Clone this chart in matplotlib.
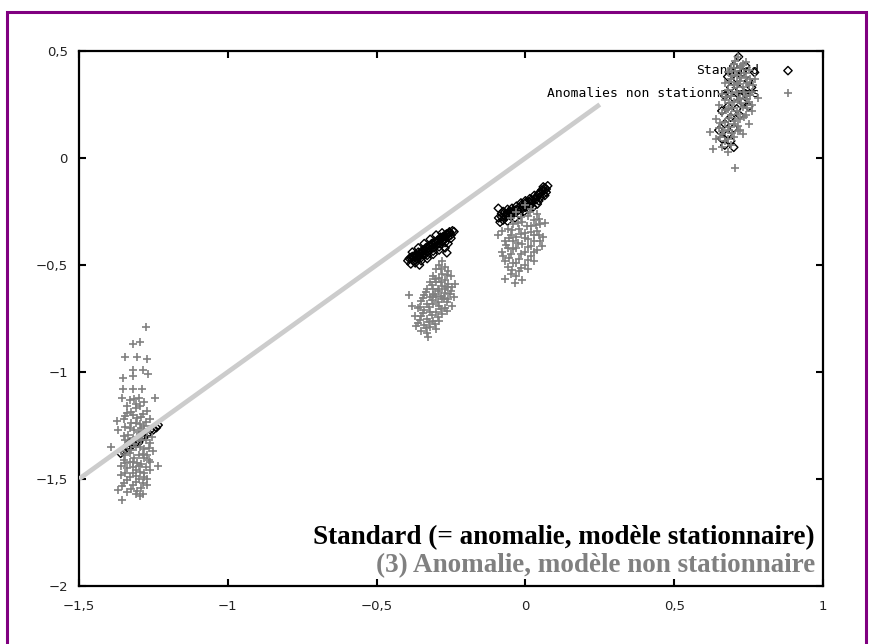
import numpy as np
import matplotlib
matplotlib.use("Agg")
import matplotlib.pyplot as plt
from matplotlib.patches import Rectangle

# --- data (x, y) ---
std_c1 = [(-1.36, -1.38), (-1.35, -1.37), (-1.34, -1.35), (-1.33, -1.35), (-1.32, -1.34),
          (-1.31, -1.33), (-1.30, -1.32), (-1.29, -1.31), (-1.28, -1.30), (-1.27, -1.29),
          (-1.26, -1.27), (-1.25, -1.27), (-1.24, -1.26), (-1.33, -1.33), (-1.30, -1.33),
          (-1.285, -1.30), (-1.234, -1.248)]
std_c2 = [(-0.395, -0.48), (-0.39, -0.47), (-0.385, -0.495), (-0.38, -0.46), (-0.375, -0.48),
          (-0.37, -0.455), (-0.365, -0.47), (-0.36, -0.44), (-0.356, -0.50), (-0.355, -0.46),
          (-0.35, -0.445), (-0.345, -0.43), (-0.34, -0.455), (-0.335, -0.42), (-0.33, -0.44),
          (-0.325, -0.41), (-0.32, -0.43), (-0.315, -0.40), (-0.31, -0.42), (-0.305, -0.39),
          (-0.30, -0.41), (-0.295, -0.385), (-0.29, -0.40), (-0.285, -0.37), (-0.28, -0.39),
          (-0.275, -0.365), (-0.27, -0.38), (-0.265, -0.355), (-0.26, -0.37), (-0.255, -0.345),
          (-0.25, -0.36), (-0.245, -0.34), (-0.24, -0.344), (-0.26, -0.40), (-0.27, -0.42),
          (-0.29, -0.43), (-0.31, -0.45), (-0.33, -0.47), (-0.35, -0.48), (-0.37, -0.49),
          (-0.30, -0.36), (-0.32, -0.38), (-0.34, -0.40), (-0.36, -0.42), (-0.38, -0.44),
          (-0.28, -0.35), (-0.264, -0.443),
          (-0.385, -0.465), (-0.375, -0.46), (-0.365, -0.455), (-0.355, -0.445), (-0.345, -0.44),
          (-0.335, -0.43), (-0.325, -0.42), (-0.315, -0.41), (-0.305, -0.40), (-0.295, -0.39),
          (-0.285, -0.38), (-0.275, -0.37), (-0.265, -0.36), (-0.255, -0.35), (-0.38, -0.475),
          (-0.36, -0.46), (-0.34, -0.445), (-0.32, -0.415), (-0.30, -0.395), (-0.28, -0.375),
          (-0.26, -0.355), (-0.35, -0.465), (-0.33, -0.455), (-0.31, -0.435), (-0.29, -0.415),
          (-0.27, -0.395), (-0.25, -0.375)]
std_c3 = [(-0.09, -0.28), (-0.085, -0.30), (-0.08, -0.26), (-0.075, -0.29), (-0.07, -0.255),
          (-0.065, -0.275), (-0.06, -0.295), (-0.055, -0.25), (-0.05, -0.27), (-0.045, -0.235),
          (-0.04, -0.26), (-0.035, -0.28), (-0.03, -0.225), (-0.025, -0.245), (-0.02, -0.265),
          (-0.015, -0.21), (-0.01, -0.23), (-0.005, -0.25), (0.0, -0.20), (0.005, -0.22),
          (0.01, -0.24), (0.015, -0.19), (0.02, -0.21), (0.025, -0.23), (0.03, -0.175),
          (0.035, -0.195), (0.04, -0.215), (0.045, -0.165), (0.05, -0.185), (0.055, -0.15),
          (0.06, -0.17), (0.065, -0.14), (0.07, -0.16), (0.075, -0.13), (0.06, -0.135),
          (-0.091, -0.235), (-0.06, -0.24), (0.0, -0.23),
          (-0.08, -0.275), (-0.07, -0.27), (-0.06, -0.26), (-0.05, -0.25), (-0.04, -0.245),
          (-0.03, -0.24), (-0.02, -0.23), (-0.01, -0.215), (0.0, -0.21), (0.01, -0.205),
          (0.02, -0.195), (0.03, -0.19), (0.04, -0.18), (0.05, -0.165), (0.06, -0.155),
          (0.07, -0.145), (-0.075, -0.25), (-0.045, -0.255), (-0.015, -0.245), (0.015, -0.225),
          (0.045, -0.2), (0.065, -0.175)]
std_c4 = [(0.716, 0.473), (0.70, 0.43), (0.73, 0.40), (0.68, 0.38), (0.71, 0.37), (0.75, 0.36),
          (0.69, 0.33), (0.72, 0.32), (0.74, 0.30), (0.67, 0.29), (0.70, 0.28), (0.73, 0.26),
          (0.68, 0.24), (0.71, 0.23), (0.75, 0.24), (0.66, 0.22), (0.69, 0.19), (0.72, 0.20),
          (0.67, 0.16), (0.70, 0.14), (0.65, 0.13), (0.68, 0.11), (0.66, 0.09), (0.69, 0.08),
          (0.67, 0.06), (0.70, 0.05), (0.76, 0.33), (0.77, 0.40), (0.74, 0.43)]

anom_c1 = [(-1.275, -0.79), (-1.318, -0.87), (-1.295, -0.86), (-1.345, -0.93), (-1.306, -0.93),
           (-1.270, -0.94), (-1.318, -0.99), (-1.286, -0.99), (-1.267, -1.01), (-1.351, -1.03),
           (-1.318, -1.02), (-1.351, -1.08), (-1.318, -1.08), (-1.289, -1.08), (-1.357, -1.12),
           (-1.245, -1.12), (-1.393, -1.35), (-1.373, -1.23), (-1.368, -1.27), (-1.234, -1.44),
           (-1.357, -1.60), (-1.295, -1.58), (-1.284, -1.57),
           (-1.33, -1.13), (-1.30, -1.12), (-1.28, -1.14), (-1.34, -1.16), (-1.31, -1.17),
           (-1.27, -1.18), (-1.32, -1.20), (-1.29, -1.21), (-1.26, -1.22), (-1.35, -1.22),
           (-1.31, -1.24), (-1.28, -1.25), (-1.33, -1.26), (-1.30, -1.28), (-1.27, -1.28),
           (-1.35, -1.30), (-1.32, -1.31), (-1.29, -1.32), (-1.26, -1.33), (-1.34, -1.34),
           (-1.31, -1.35), (-1.28, -1.36), (-1.36, -1.37), (-1.33, -1.38), (-1.30, -1.39),
           (-1.27, -1.39), (-1.25, -1.37), (-1.35, -1.41), (-1.32, -1.42), (-1.29, -1.43),
           (-1.26, -1.42), (-1.34, -1.45), (-1.31, -1.46), (-1.28, -1.47), (-1.36, -1.48),
           (-1.33, -1.49), (-1.30, -1.50), (-1.27, -1.50), (-1.35, -1.52), (-1.32, -1.53),
           (-1.29, -1.54), (-1.34, -1.56), (-1.31, -1.57), (-1.37, -1.55), (-1.26, -1.46),
           (-1.30, -1.31), (-1.32, -1.47), (-1.29, -1.26), (-1.34, -1.19), (-1.28, -1.40),
           (-1.31, -1.15), (-1.33, -1.42), (-1.27, -1.53), (-1.36, -1.44), (-1.30, -1.44),
           (-1.315, -1.125), (-1.295, -1.16), (-1.325, -1.185), (-1.285, -1.195), (-1.345, -1.205),
           (-1.305, -1.215), (-1.275, -1.235), (-1.325, -1.24), (-1.345, -1.255), (-1.295, -1.245),
           (-1.265, -1.265), (-1.315, -1.27), (-1.285, -1.285), (-1.335, -1.295), (-1.255, -1.305),
           (-1.305, -1.305), (-1.275, -1.32), (-1.345, -1.32), (-1.315, -1.335), (-1.295, -1.35),
           (-1.265, -1.355), (-1.325, -1.365), (-1.345, -1.39), (-1.285, -1.385), (-1.315, -1.40),
           (-1.265, -1.41), (-1.305, -1.425), (-1.345, -1.425), (-1.275, -1.445), (-1.32, -1.445),
           (-1.295, -1.465), (-1.345, -1.47), (-1.31, -1.485), (-1.28, -1.49), (-1.34, -1.505),
           (-1.31, -1.515), (-1.285, -1.52), (-1.325, -1.545), (-1.305, -1.555), (-1.355, -1.535)]
anom_c2 = [(-0.281, -0.48), (-0.29, -0.50), (-0.27, -0.51), (-0.30, -0.52), (-0.26, -0.53),
           (-0.28, -0.54), (-0.31, -0.55), (-0.25, -0.55), (-0.29, -0.56), (-0.27, -0.57),
           (-0.32, -0.58), (-0.30, -0.58), (-0.26, -0.59), (-0.237, -0.59), (-0.28, -0.60),
           (-0.33, -0.61), (-0.31, -0.61), (-0.29, -0.62), (-0.25, -0.62), (-0.27, -0.63),
           (-0.39, -0.64), (-0.34, -0.64), (-0.32, -0.65), (-0.30, -0.65), (-0.28, -0.66),
           (-0.26, -0.66), (-0.35, -0.67), (-0.33, -0.68), (-0.31, -0.68), (-0.29, -0.69),
           (-0.248, -0.69), (-0.27, -0.70), (-0.36, -0.70), (-0.34, -0.71), (-0.32, -0.72),
           (-0.30, -0.72), (-0.28, -0.73), (-0.37, -0.74), (-0.35, -0.74), (-0.33, -0.75),
           (-0.31, -0.76), (-0.29, -0.76), (-0.36, -0.77), (-0.34, -0.78), (-0.367, -0.785),
           (-0.32, -0.79), (-0.30, -0.80), (-0.35, -0.81), (-0.33, -0.82), (-0.326, -0.835),
           (-0.31, -0.64), (-0.27, -0.61), (-0.24, -0.65), (-0.38, -0.69),
           (-0.285, -0.52), (-0.265, -0.545), (-0.305, -0.565), (-0.285, -0.58), (-0.315, -0.595),
           (-0.265, -0.605), (-0.295, -0.61), (-0.335, -0.625), (-0.255, -0.635), (-0.305, -0.635),
           (-0.285, -0.645), (-0.345, -0.655), (-0.265, -0.675), (-0.315, -0.665), (-0.295, -0.675),
           (-0.325, -0.695), (-0.285, -0.705), (-0.345, -0.725), (-0.315, -0.735), (-0.295, -0.745),
           (-0.325, -0.765), (-0.305, -0.775), (-0.355, -0.755), (-0.335, -0.795), (-0.275, -0.655),
           (-0.245, -0.605), (-0.355, -0.695), (-0.265, -0.715)]
anom_c3 = [(0.0, -0.22), (0.02, -0.24), (-0.03, -0.25), (0.04, -0.26), (0.01, -0.27),
           (-0.05, -0.28), (0.066, -0.305), (0.03, -0.29), (-0.01, -0.30), (-0.04, -0.31),
           (0.05, -0.31), (0.02, -0.32), (-0.06, -0.33), (-0.02, -0.33), (0.04, -0.34),
           (0.0, -0.35), (-0.091, -0.36), (-0.05, -0.36), (0.03, -0.36), (-0.03, -0.37),
           (0.01, -0.38), (-0.07, -0.39), (-0.04, -0.39), (0.05, -0.39), (-0.01, -0.40),
           (0.02, -0.41), (-0.06, -0.42), (-0.03, -0.42), (0.04, -0.43), (0.0, -0.44),
           (-0.08, -0.44), (-0.05, -0.45), (0.02, -0.46), (-0.02, -0.47), (-0.07, -0.48),
           (0.03, -0.48), (-0.04, -0.49), (0.0, -0.50), (-0.06, -0.51), (0.01, -0.52),
           (-0.02, -0.53), (-0.05, -0.54), (-0.03, -0.55), (-0.069, -0.567), (-0.035, -0.586),
           (-0.01, -0.57), (0.06, -0.37), (-0.08, -0.34),
           (0.015, -0.25), (-0.015, -0.275), (0.045, -0.285), (-0.025, -0.305), (0.035, -0.315),
           (0.005, -0.32), (-0.045, -0.335), (0.02, -0.345), (-0.015, -0.355), (0.045, -0.36),
           (-0.055, -0.375), (0.0, -0.375), (0.03, -0.39), (-0.025, -0.395), (-0.065, -0.405),
           (0.01, -0.415), (-0.04, -0.425), (0.03, -0.44), (-0.015, -0.45), (-0.055, -0.465),
           (0.01, -0.475), (-0.03, -0.49), (-0.015, -0.515), (-0.045, -0.525), (0.055, -0.41),
           (-0.075, -0.46)]
anom_c4 = [(0.716, 0.47), (0.70, 0.44), (0.73, 0.44), (0.69, 0.42), (0.72, 0.42), (0.75, 0.41),
           (0.68, 0.40), (0.71, 0.39), (0.74, 0.38), (0.77, 0.37), (0.69, 0.37), (0.72, 0.36),
           (0.67, 0.35), (0.70, 0.34), (0.75, 0.34), (0.73, 0.33), (0.68, 0.32), (0.71, 0.31),
           (0.76, 0.31), (0.66, 0.30), (0.69, 0.29), (0.74, 0.29), (0.72, 0.28), (0.67, 0.27),
           (0.70, 0.26), (0.75, 0.26), (0.65, 0.25), (0.73, 0.24), (0.68, 0.23), (0.71, 0.22),
           (0.76, 0.22), (0.66, 0.21), (0.69, 0.20), (0.74, 0.20), (0.72, 0.18), (0.64, 0.18),
           (0.67, 0.17), (0.70, 0.16), (0.75, 0.16), (0.65, 0.14), (0.68, 0.13), (0.72, 0.13),
           (0.66, 0.11), (0.70, 0.10), (0.64, 0.09), (0.67, 0.08), (0.69, 0.06), (0.66, 0.05),
           (0.63, 0.04), (0.68, 0.03), (0.705, -0.045), (0.73, 0.11), (0.62, 0.12), (0.71, 0.35),
           (0.78, 0.28), (0.74, 0.45),
           (0.705, 0.455), (0.725, 0.43), (0.705, 0.405), (0.735, 0.395), (0.695, 0.385),
           (0.725, 0.375), (0.755, 0.37), (0.685, 0.355), (0.715, 0.345), (0.745, 0.35),
           (0.735, 0.31), (0.695, 0.305), (0.755, 0.295), (0.675, 0.285), (0.715, 0.27),
           (0.745, 0.275), (0.685, 0.255), (0.725, 0.255), (0.695, 0.235), (0.745, 0.235),
           (0.675, 0.225), (0.715, 0.205), (0.685, 0.185), (0.735, 0.19), (0.705, 0.175),
           (0.655, 0.165), (0.685, 0.145), (0.715, 0.15), (0.665, 0.125), (0.695, 0.115),
           (0.655, 0.10), (0.68, 0.09), (0.715, 0.125), (0.76, 0.25), (0.765, 0.34)]

# reference line y = x
ref_x = [-1.5, 0.25]
ref_y = [-1.5, 0.25]

xticks = [-1.5, -1, -0.5, 0, 0.5, 1]
xtick_labels = ["−1,5", "−1", "−0,5", "0", "0,5", "1"]
yticks = [-2, -1.5, -1, -0.5, 0, 0.5]
ytick_labels = ["−2", "−1,5", "−1", "−0,5", "0", "0,5"]

legend_labels = ["Standard", "Anomalies non stationnaires"]
note_std = "Standard (= anomalie, modèle stationnaire)"
note_anom = "(3) Anomalie, modèle non stationnaire"

std = np.array(std_c1 + std_c2 + std_c3 + std_c4)
anom = np.array(anom_c1 + anom_c2 + anom_c3 + anom_c4)

fig = plt.figure(figsize=(8.7, 6.44), dpi=100)
ax = fig.add_axes([79 / 870, 1 - 586 / 644, 744 / 870, 535 / 644])

ax.scatter(std[:, 0], std[:, 1], marker="D", s=18, facecolors="none",
           edgecolors="black", linewidths=1.0, zorder=3, label=legend_labels[0])
ax.scatter(anom[:, 0], anom[:, 1], marker="+", s=40, color="#808080",
           linewidths=1.2, zorder=4, label=legend_labels[1])
ax.plot(ref_x, ref_y, color="#cccccc", lw=3.4, solid_capstyle="butt", zorder=5)

ax.set_xlim(-1.5, 1)
ax.set_ylim(-2, 0.5)
ax.set_xticks(xticks)
ax.set_xticklabels(xtick_labels)
ax.set_yticks(yticks)
ax.set_yticklabels(ytick_labels)
ax.tick_params(direction="in", length=5, width=1.5, top=True, right=True,
               labelsize=9.5, colors="black", labelcolor="#222222")
ax.tick_params(axis="x", pad=10)
ax.tick_params(axis="y", pad=8)
for sp in ax.spines.values():
    sp.set_linewidth(1.6)

leg = ax.legend(loc="upper right", bbox_to_anchor=(0.981, 1.0), markerfirst=False,
                frameon=False, prop={"family": "DejaVu Sans Mono", "size": 9.4},
                handlelength=1.2, handletextpad=1.6, labelspacing=0.75,
                borderaxespad=0.6, scatterpoints=1)
leg.set_zorder(1)

ax.text(0.989, 0.0897, note_std, transform=ax.transAxes, ha="right", va="center",
        fontsize=19.5, fontweight="bold", family="Liberation Serif", color="black", zorder=6)
ax.text(0.989, 0.039, note_anom, transform=ax.transAxes, ha="right", va="center",
        fontsize=19.5, fontweight="bold", family="Liberation Serif", color="#808080", zorder=6)

# purple frame around the figure
fig.patches.append(Rectangle((7.5 / 870, -0.05), 859 / 870, 1.05 - 11.5 / 644,
                             transform=fig.transFigure, fill=False,
                             edgecolor="#800080", lw=2.2))

fig.savefig("out.png", dpi=100)
